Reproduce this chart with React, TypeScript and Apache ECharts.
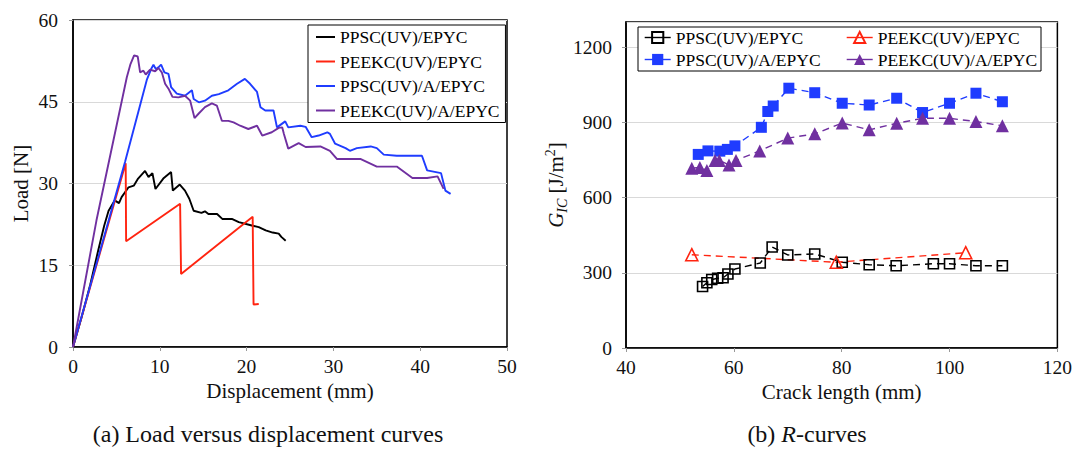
import React, { useEffect, useRef } from "react";
import * as echarts from "echarts";

const FONT = '"Liberation Serif", "Times New Roman", serif';

// ---------- Panel (a): load vs displacement ----------
const dispTicks = { min: 0, max: 50, interval: 10 };
const loadTicks = { min: 0, max: 60, interval: 15 };

const ldNames = ["PPSC(UV)/EPYC", "PEEKC(UV)/EPYC", "PPSC(UV)/A/EPYC", "PEEKC(UV)/A/EPYC"];
const ldColors = ["#000000", "#ff2410", "#1f3cff", "#7030a0"];

const ldPpsc = [
  [0, 0], [1, 5.5], [2, 11.5], [2.9, 17.7], [3.6, 22.3], [4.1, 25], [4.8, 26.9], [5.3, 26.4], [5.6, 27.5],
  [6.4, 29.3], [7, 29.6], [7.5, 30.9], [8.3, 32.3], [8.7, 31.2], [9.15, 31.9], [9.5, 29], [10.4, 30.9],
  [11.3, 32.1], [11.5, 28.7], [12.3, 29.8], [12.9, 28.7], [13.4, 27.2], [13.9, 25], [14.8, 24.6], [15.2, 24.9],
  [15.6, 24.4], [16.6, 24.4], [17.2, 23.5], [18.3, 23.5], [19.1, 22.9], [20.6, 22.3], [21.4, 22.0], [22.2, 21.4],
  [23.0, 21.0], [23.7, 20.8], [24.0, 20.2], [24.5, 19.5],
];
const ldPeekc = [
  [0, 0], [6.07, 33.7], [6.12, 19.4], [12.34, 26.3], [12.45, 13.4], [20.7, 23.9], [20.8, 7.8], [21.4, 7.9],
];
const ldPpscA = [
  [0, 0], [4, 22.6], [6, 34], [8.5, 49], [9.0, 51], [9.27, 51.8], [9.54, 51], [9.84, 51.3], [10.15, 51.8],
  [10.53, 50.4], [11, 50.1], [11.3, 47.7], [11.96, 46.5], [12.9, 46.1], [13.7, 47.1], [13.9, 45.5],
  [14.5, 44.9], [15.2, 45.2], [16, 46.1], [16.8, 46.4], [17.9, 47.1], [18.9, 48.3], [19.8, 49.2], [20.4, 48.3],
  [21.2, 46.8], [21.6, 44], [22.15, 43.4], [23.1, 43.4], [23.5, 40.3], [24.45, 41.4], [24.8, 40.3],
  [26.2, 40.6], [26.8, 40.4], [27.5, 38.5], [28.3, 38.8], [29.3, 39.4], [29.6, 39.1], [30.2, 37.3],
  [31.4, 36.5], [31.9, 36], [32.7, 36.5], [34.3, 36.8], [35, 36.5], [35.8, 35.3], [37.3, 35.1],
  [38.9, 35.1], [40.2, 35.1], [40.8, 32.4], [42.4, 31.9], [42.9, 28.7], [43.5, 28.1],
];
const ldPeekcA = [
  [0, 0], [2.7, 23.2], [6.2, 49.5], [6.6, 51.8], [7.04, 53.5], [7.46, 53.3], [7.73, 50.4], [8.11, 50.7],
  [8.38, 50], [8.88, 50.9], [9.46, 50.6], [9.84, 51.2], [10.23, 50.4], [10.61, 48.3], [11, 47.4],
  [11.46, 45.9], [12.15, 45.8], [12.9, 46.1], [13.5, 45.2], [14, 42], [14.46, 42.8], [15.2, 44], [16, 44.7],
  [16.57, 44.3], [17.15, 41.5], [17.9, 41.5], [18.5, 41.2], [19.26, 40.6], [20.2, 40], [21.2, 40.6],
  [21.8, 38.8], [22.9, 39.4], [23.7, 40.2], [24.1, 40.3], [24.3, 39.1], [24.8, 36.4], [26, 37.4],
  [26.8, 36.7], [28.5, 36.8], [29.6, 36], [30.4, 34.5], [31.6, 34.5], [33.1, 34.5], [35, 33.1],
  [37.3, 33.1], [39.1, 31], [40.8, 31], [42, 31.3], [42.7, 29],
];
const ldData = [ldPpsc, ldPeekc, ldPpscA, ldPeekcA];

// ---------- Panel (b): R-curves ----------
const crackTicks = { min: 40, max: 120, interval: 20 };
const gicTicks = { min: 0, max: 1300, interval: 300 };

const rPrefix = "R:";
const rColors = ["#000000", "#ff2410", "#1f3cff", "#7030a0"];
const rPpsc = [
  [54.2, 245], [55, 260], [55.9, 273], [57, 278], [58, 280], [58.9, 295], [60.2, 315], [64.9, 339],
  [67.1, 403], [70, 371], [75, 375], [80.1, 342], [85.1, 332], [90.1, 328], [97, 336], [100, 336],
  [104.9, 328], [109.8, 328],
];
const rPeekc = [[52.2, 372], [79, 342], [103, 380]];
const rPpscA = [
  [53.4, 772], [55.2, 786], [57.4, 785], [58.8, 792], [60.2, 806], [65.1, 880], [66.3, 943], [67.3, 965],
  [70.2, 1036], [75, 1018], [80.1, 976], [85.1, 969], [90.2, 996], [95, 939], [100, 976], [104.9, 1016],
  [109.8, 982],
];
const rPeekcA = [
  [52.2, 717], [53.7, 720], [55, 708], [56.5, 748], [57.3, 748], [59.1, 730], [60.4, 748], [64.8, 786],
  [70, 837], [75, 854], [80.1, 897], [85.1, 870], [90.2, 896], [95, 916], [100, 916], [104.9, 903],
  [109.8, 886],
];
const rData = [rPpsc, rPeekc, rPpscA, rPeekcA];
const rSymbols = ["rect", "triangle", "rect", "triangle"];
const rSymbolSizes = [10, 12, 11, 13];
const rHollow = [true, true, false, false];

const axisLabelStyle = { fontFamily: FONT, fontSize: 19.5, color: "#111" };
const nameStyle = { fontFamily: FONT, fontSize: 21, color: "#111" };
const captionSize = 24;

function buildOption() {
  const commonAxis = {
    axisLine: { show: true, lineStyle: { color: "#000", width: 1.5 } },
    axisTick: { show: true, length: 4, lineStyle: { color: "#999" } },
    splitLine: { show: false },
  };

  const series: any[] = [];
  ldData.forEach((d, i) => {
    series.push({
      type: "line",
      name: ldNames[i],
      xAxisIndex: 0,
      yAxisIndex: 0,
      data: d,
      showSymbol: false,
      symbol: "none",
      lineStyle: { color: ldColors[i], width: 1.9 },
      itemStyle: { color: ldColors[i] },
      z: 3,
    });
  });
  rData.forEach((d, i) => {
    series.push({
      type: "line",
      name: rPrefix + ldNames[i],
      xAxisIndex: 1,
      yAxisIndex: 1,
      data: d,
      symbol: rSymbols[i],
      symbolSize: rSymbolSizes[i],
      lineStyle: { color: rColors[i], width: 1.4, type: [7, 5] },
      itemStyle: rHollow[i]
        ? { color: "rgba(255,255,255,0)", borderColor: rColors[i], borderWidth: 1.6 }
        : { color: rColors[i], borderColor: rColors[i], borderWidth: 0 },
    });
  });

  const legendText = { fontFamily: FONT, fontSize: 17.5, color: "#000", lineHeight: 20 };
  const rItem = (i: number) => ({
    name: rPrefix + ldNames[i],
    lineStyle: { type: "solid", width: 1.4, color: rColors[i] },
  });
  const rLegendBase = {
    orient: "vertical",
    top: 28,
    itemWidth: 26,
    itemHeight: 14,
    itemGap: 3,
    padding: 0,
    textStyle: { ...legendText, lineHeight: 19 },
    lineStyle: { type: "solid", width: 1.4 },
    formatter: (n: string) => n.replace(rPrefix, ""),
    selectedMode: false,
  };

  return {
    animation: false,
    backgroundColor: "#fff",
    grid: [
      { left: 73, top: 20, width: 434, height: 327, show: true, borderColor: "#000", borderWidth: 1.5, backgroundColor: "transparent" },
      { left: 626, top: 22, width: 432, height: 326, show: true, borderColor: "#000", borderWidth: 1.5, backgroundColor: "transparent" },
    ],
    xAxis: [
      {
        ...commonAxis,
        type: "value",
        gridIndex: 0,
        min: dispTicks.min,
        max: dispTicks.max,
        interval: dispTicks.interval,
        axisLabel: { ...axisLabelStyle, margin: 9 },
        name: "Displacement (mm)",
        nameLocation: "middle",
        nameGap: 32,
        nameTextStyle: nameStyle,
      },
      {
        ...commonAxis,
        type: "value",
        gridIndex: 1,
        min: crackTicks.min,
        max: crackTicks.max,
        interval: crackTicks.interval,
        axisLabel: { ...axisLabelStyle, margin: 9 },
        name: "Crack length (mm)",
        nameLocation: "middle",
        nameGap: 32,
        nameTextStyle: nameStyle,
      },
    ],
    yAxis: [
      {
        ...commonAxis,
        type: "value",
        gridIndex: 0,
        min: loadTicks.min,
        max: loadTicks.max,
        interval: loadTicks.interval,
        axisLabel: { ...axisLabelStyle, margin: 15 },
        splitLine: { show: true, lineStyle: { color: "#d9d9d9", width: 1 } },
        name: "Load [N]",
        nameLocation: "middle",
        nameRotate: 90,
        nameGap: 42,
        nameTextStyle: nameStyle,
      },
      {
        ...commonAxis,
        type: "value",
        gridIndex: 1,
        min: gicTicks.min,
        max: gicTicks.max,
        interval: gicTicks.interval,
        axisLabel: { ...axisLabelStyle, margin: 14, showMaxLabel: false, formatter: (v: number) => String(v) },
        splitLine: { show: true, lineStyle: { color: "#d9d9d9", width: 1 } },
        name: "{g|G}{sub|IC}{n| [J/m}{sup|2}{n|]}",
        nameLocation: "middle",
        nameRotate: 90,
        nameGap: 41,
        nameTextStyle: {
          ...nameStyle,
          rich: {
            g: { fontFamily: FONT, fontSize: 21, fontStyle: "italic", color: "#111", lineHeight: 26, verticalAlign: "middle" },
            n: { fontFamily: FONT, fontSize: 21, color: "#111", lineHeight: 26, verticalAlign: "middle" },
            sub: { fontFamily: FONT, fontSize: 14, fontStyle: "italic", color: "#111", lineHeight: 13, verticalAlign: "bottom" },
            sup: { fontFamily: FONT, fontSize: 14, color: "#111", lineHeight: 13, verticalAlign: "top" },
          },
        },
      },
    ],
    legend: [
      {
        orient: "vertical",
        left: 308,
        top: 25,
        data: ldNames.map((n) => ({ name: n, icon: "rect" })),
        itemWidth: 19,
        itemHeight: 2,
        itemGap: 4.5,
        padding: [2, 6, 2, 8],
        borderColor: "#000",
        borderWidth: 1,
        backgroundColor: "#fff",
        textStyle: legendText,
        selectedMode: false,
      },
      { ...rLegendBase, left: 644, data: [rItem(0), rItem(2)] },
      { ...rLegendBase, left: 846, data: [rItem(1), rItem(3)] },
    ],
    graphic: [
      {
        type: "rect",
        z: 3,
        shape: { x: 638, y: 27, width: 403, height: 44 },
        style: { fill: "#fff", stroke: "#000", lineWidth: 1 },
      },
      {
        type: "text",
        x: 268,
        y: 434,
        style: {
          text: "(a) Load versus displacement curves",
          fontFamily: FONT,
          fontSize: captionSize,
          fill: "#111",
          align: "center",
          verticalAlign: "middle",
        },
      },
      {
        type: "text",
        x: 807,
        y: 434,
        style: {
          text: "{t|(b) }{i|R}{t|-curves}",
          fontFamily: FONT,
          fontSize: captionSize,
          fill: "#111",
          align: "center",
          verticalAlign: "middle",
          rich: {
            t: { fontFamily: FONT, fontSize: captionSize, fill: "#111" },
            i: { fontFamily: FONT, fontSize: captionSize, fontStyle: "italic", fill: "#111" },
          },
        },
      },
    ],
    series,
  };
}

export default function App() {
  const ref = useRef<HTMLDivElement>(null);
  useEffect(() => {
    if (!ref.current) return;
    const chart = echarts.init(ref.current, undefined, { renderer: "svg" });
    chart.setOption(buildOption() as any);
    return () => chart.dispose();
  }, []);
  return (
    <div
      ref={ref}
      style={{ position: "fixed", left: 0, top: 0, width: 1075, height: 449, background: "#fff" }}
    />
  );
}
